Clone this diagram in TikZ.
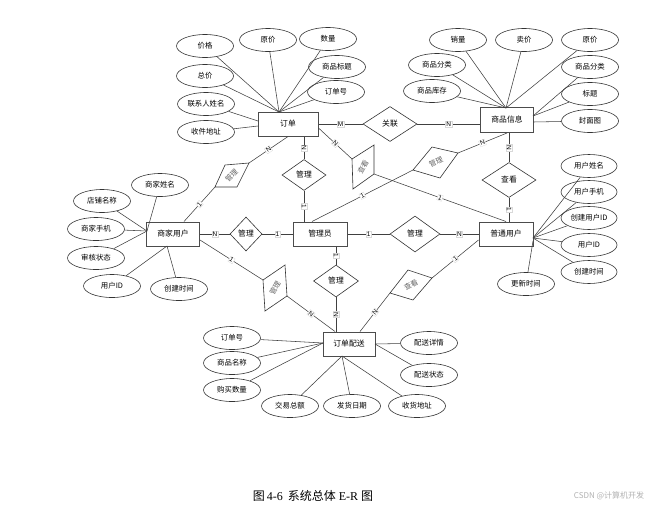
\documentclass[tikz,border=0pt]{standalone}
\usepackage{fontspec}
\setmainfont{Liberation Serif}
\setsansfont{Liberation Sans}
\newfontfamily\cjk{Noto Sans CJK SC}
\usetikzlibrary{shapes.geometric}
\begin{document}
\begin{tikzpicture}[x=1pt,y=-1pt,
  ent/.style={draw=black!70, line width=1pt, minimum width=54pt, minimum height=24pt, inner sep=0pt, font=\cjk\fontsize{7.8}{9}\selectfont},
  attr/.style={draw=black!80, ellipse, line width=0.6pt, minimum width=57pt, minimum height=23pt, inner sep=0pt, font=\cjk\fontsize{7.4}{8}\selectfont},
  rel/.style={draw=black!80, diamond, line width=0.6pt, inner sep=0pt, font=\cjk\fontsize{7.8}{9}\selectfont},
  skew/.style={draw=black!80, line width=0.6pt},
  rtext/.style={inner sep=0pt, text=black!60, font=\cjk\fontsize{7.2}{9}\selectfont},
  lnk/.style={draw=black!75, line width=0.55pt},
  card/.style={fill=white, draw=black!15, line width=0.3pt, inner sep=0.7pt, sloped, font=\sffamily\fontsize{6.5}{7}\selectfont}
]
\useasboundingbox (0,0) rectangle (671,509);
\fill[white] (0,0) rectangle (671,509);

% entities
\node[ent, minimum width=60pt] (ord) at (288,124) {订单};
\node[ent, minimum width=53pt, minimum height=25pt] (spx) at (507,120) {商品信息};
\node[ent, minimum width=53pt] (mer) at (173,234) {商家用户};
\node[ent] (adm) at (320,234) {管理员};
\node[ent] (usr) at (506,234) {普通用户};
\node[ent, minimum width=52pt] (dlv) at (349,344) {订单配送};

% attributes of 订单
\node[attr] (a1) at (205,46) {价格};
\node[attr] (a2) at (268,40) {原价};
\node[attr] (a3) at (328,39) {数量};
\node[attr] (a4) at (337,67) {商品标题};
\node[attr] (a5) at (336,92) {订单号};
\node[attr] (a6) at (205,76) {总价};
\node[attr] (a7) at (206,104) {联系人姓名};
\node[attr] (a8) at (206,132) {收件地址};
\coordinate (oT) at (279,112);
\coordinate (oL1) at (258,121);
\coordinate (oL2) at (258,126);
\foreach \n in {a1,a2,a3,a4,a5,a6} \draw[lnk] (\n) -- (oT);
\draw[lnk] (a7) -- (oL1);
\draw[lnk] (a8) -- (oL2);

% attributes of 商品信息
\node[attr] (b1) at (458,40) {销量};
\node[attr] (b2) at (524,40) {卖价};
\node[attr] (b3) at (590,40) {原价};
\node[attr] (b4) at (437,65) {商品分类};
\node[attr] (b5) at (432,91) {商品库存};
\node[attr] (b6) at (590,67) {商品分类};
\node[attr] (b7) at (590,94) {标题};
\node[attr] (b8) at (590,121) {封面图};
\coordinate (sT) at (506,108);
\coordinate (sR1) at (533,116);
\coordinate (sR2) at (533,122);
\foreach \n in {b1,b2,b3,b4,b5} \draw[lnk] (\n) -- (sT);
\draw[lnk] (b6) -- (sR1);
\draw[lnk] (b7) -- (sR1);
\draw[lnk] (b8) -- (sR2);

% attributes of 商家用户
\node[attr] (c1) at (160,185) {商家姓名};
\node[attr] (c2) at (102,201) {店铺名称};
\node[attr] (c3) at (96,229) {商家手机};
\node[attr] (c4) at (96,258) {审核状态};
\node[attr] (c5) at (112,286) {用户ID};
\node[attr] (c6) at (179,289) {创建时间};
\coordinate (mL) at (147,231);
\coordinate (mB) at (167,246);
\foreach \n in {c1,c2,c3,c4} \draw[lnk] (\n) -- (mL);
\draw[lnk] (c5) -- (mB);
\draw[lnk] (c6) -- (mB);

% attributes of 普通用户
\node[attr, minimum width=56pt] (d1) at (589,166) {用户姓名};
\node[attr, minimum width=56pt] (d2) at (589,192) {用户手机};
\node[attr, minimum width=56pt] (d3) at (589,218) {创建用户ID};
\node[attr, minimum width=56pt] (d4) at (589,245) {用户ID};
\node[attr, minimum width=56pt] (d5) at (589,272) {创建时间};
\node[attr] (d6) at (526,284) {更新时间};
\coordinate (uR) at (533,238);
\coordinate (uB) at (533,241);
\foreach \n in {d1,d2,d3,d4,d5} \draw[lnk] (\n) -- (uR);
\draw[lnk] (d6) -- (uB);

% attributes of 订单配送
\node[attr] (e1) at (232,338) {订单号};
\node[attr] (e2) at (232,363) {商品名称};
\node[attr] (e3) at (232,390) {购买数量};
\node[attr] (e4) at (290,406) {交易总额};
\node[attr] (e5) at (352,406) {发货日期};
\node[attr] (e6) at (417,406) {收货地址};
\node[attr] (e7) at (429,343) {配送详情};
\node[attr] (e8) at (429,375) {配送状态};
\coordinate (dL) at (323,343);
\coordinate (dB) at (342,356);
\coordinate (dR) at (375,344);
\foreach \n in {e1,e2,e3} \draw[lnk] (\n) -- (dL);
\foreach \n in {e4,e5,e6} \draw[lnk] (\n) -- (dB);
\foreach \n in {e7,e8} \draw[lnk] (\n) -- (dR);

% upright relationships
\node[rel, minimum width=54pt, minimum height=35pt] (r1) at (390,124) {关联};
\node[rel, minimum width=44pt, minimum height=31pt] (r2) at (304,175) {管理};
\node[rel, minimum width=32pt, minimum height=34pt] (r3) at (246,234) {管理};
\node[rel, minimum width=50pt, minimum height=36pt] (r4) at (415,234) {管理};
\node[rel, minimum width=45pt, minimum height=32pt] (r5) at (336,281) {管理};
\node[rel, minimum width=54pt, minimum height=35pt] (r6) at (509,180) {查看};

% skewed relationships
\draw[skew] (215,187) coordinate (sAl) -- (225,165) -- (249,163) coordinate (sAr) -- (237,187) -- cycle;
\node[rtext, rotate=45] (sA) at (231.5,175.5) {管理};
\draw[skew] (352,159) coordinate (sBl) -- (374,145) -- (374,174) coordinate (sBr) -- (353,189) -- cycle;
\node[rtext, rotate=60] (sB) at (363,167) {查看};
\draw[skew] (413,170) coordinate (sCl) -- (432,147) -- (458,153) coordinate (sCr) -- (440,178) -- cycle;
\node[rtext, rotate=25] (sC) at (436,162) {管理};
\draw[skew] (263,280) coordinate (sDl) -- (285,265) -- (287,296) coordinate (sDr) -- (265,311) -- cycle;
\node[rtext, rotate=60] (sD) at (275,288) {管理};
\draw[skew] (390,293) coordinate (sEl) -- (408,270) -- (432,278) coordinate (sEr) -- (413,300) -- cycle;
\node[rtext, rotate=28] (sE) at (411,285) {查看};

% connectors with cardinalities
\draw[lnk] (ord.east) -- node[card]{M} (r1.west);
\draw[lnk] (r1.east) -- node[card]{N} (r1.east -| spx.west);
\draw[lnk] (ord.south -| r2) -- node[card]{N} (r2.north);
\draw[lnk] (r2.south) -- node[card]{1} (r2.south |- adm.north);
\draw[lnk] (ord.south) -- node[card]{N} (sAr);
\draw[lnk] (sAl) -- node[card]{1} ([xshift=11pt]mer.north);
\draw[lnk] ([yshift=-4pt]ord.east) -- node[card]{N} (sBl);
\draw[lnk] (sBr) -- node[card]{1} (usr.north);
\draw[lnk] ([xshift=-8pt]adm.north) -- node[card]{1} (sCl);
\draw[lnk] (sCr) -- node[card]{N} (spx.south);
\draw[lnk] (spx.south -| r6) -- node[card]{N} (r6.north);
\draw[lnk] (r6.south) -- node[card]{1} (r6.south |- usr.north);
\draw[lnk] (mer.east) -- node[card]{N} (r3.west);
\draw[lnk] (r3.east) -- node[card]{1} (adm.west);
\draw[lnk] (adm.east) -- node[card]{1} (r4.west);
\draw[lnk] (r4.east) -- node[card]{N} (usr.west);
\draw[lnk] (adm.south -| r5) -- node[card]{1} (r5.north);
\draw[lnk] (r5.south) -- node[card]{N} (r5.south |- dlv.north);
\draw[lnk] ([yshift=-6pt]mer.east) -- node[card]{1} (sDl);
\draw[lnk] (sDr) -- node[card]{N} ([xshift=-14pt]dlv.north);
\draw[lnk] ([yshift=-6pt]usr.west) -- node[card]{1} (sEr);
\draw[lnk] (sEl) -- node[card]{N} ([xshift=11pt]dlv.north);

% caption and watermark
\node[inner sep=0pt, font=\fontsize{12}{14}\selectfont] (cap) at (313,496) {{\cjk 图}\,4-6\, {\cjk 系统总体} E-R {\cjk 图}};
\node[inner sep=0pt, text=black!30, font=\cjk\fontsize{8}{9}\selectfont] (wm) at (609,496) {CSDN @计算机开发};
\end{tikzpicture}
\end{document}
